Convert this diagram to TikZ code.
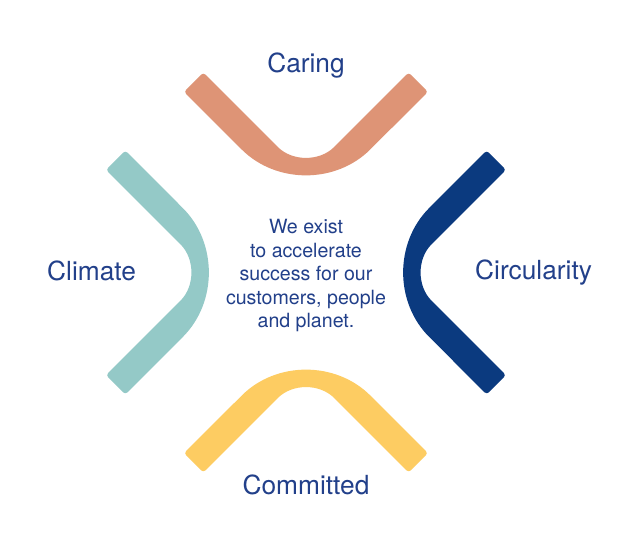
\documentclass[tikz,border=0pt]{standalone}
\usepackage{fontspec}
\setmainfont{TeX Gyre Heros}
\definecolor{caringc}{HTML}{DE9476}
\definecolor{climatec}{HTML}{94C9C7}
\definecolor{circc}{HTML}{0B3A7F}
\definecolor{commitc}{HTML}{FDCC62}
\definecolor{textc}{HTML}{22408A}
\newcommand{\bandshape}[1]{%
  \fill[#1,rounded corners=3pt] (-66.5,125.2) arc[start angle=225,end angle=315,radius=94]
    -- (122,180.7) -- (102.7,200) -- (30.4,127.7)
    arc[start angle=-45,end angle=-135,radius=43]
    -- (-102.7,200) -- (-122,180.7) -- cycle;}
\tikzset{
  label/.style={text=textc,font=\fontsize{26.3}{31}\selectfont,inner sep=0pt},
  mission/.style={text=textc,font=\fontsize{19.6}{23.5}\selectfont,align=center,inner sep=0pt}
}
\begin{document}
\begin{tikzpicture}[x=1pt,y=1pt]
\path[use as bounding box,fill=white] (0,0) rectangle (633,545);
\coordinate (ctr) at (306,272.5);
\begin{scope}[shift={(ctr)}]
  \bandshape{caringc}
  \begin{scope}[rotate=90] \bandshape{climatec} \end{scope}
  \begin{scope}[rotate=180] \bandshape{commitc} \end{scope}
  \begin{scope}[rotate=270] \bandshape{circc} \end{scope}
\end{scope}
\node[label,anchor=base] (caring) at (306,472) {Caring};
\node[label,anchor=base west] (climate) at (47,264.3) {Climate};
\node[label,anchor=base west] (circ) at (475,265) {Circularity};
\node[label,anchor=base] (commit) at (306,50) {Committed};
\node[mission] (msg) at (306,269.4) {We exist\\to accelerate\\success for our\\customers, people\\and planet.};
\end{tikzpicture}
\end{document}
